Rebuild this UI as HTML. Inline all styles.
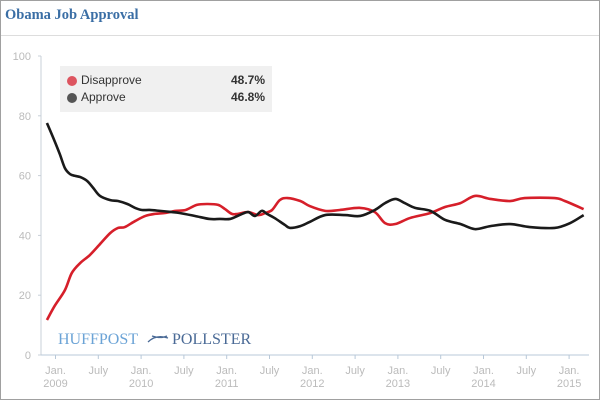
<!DOCTYPE html>
<html><head><meta charset="utf-8"><style>
body{margin:0;background:#fff}
#wrap{position:relative;width:598px;height:398px;border:1px solid #a0a0a0;font-family:"Liberation Sans",sans-serif;overflow:hidden}
#title{position:absolute;left:4px;top:6px;font:bold 14.5px "Liberation Serif",serif;color:#3a6ea5}
#sep{position:absolute;left:0;top:34px;width:598px;height:1px;background:#ddd}
#legend{position:absolute;left:59px;top:65px;width:212px;height:46px;background:#f0f0f0;font-size:12px;color:#333}
.li{position:absolute;left:7px;height:16px;width:198px}
.dot{position:absolute;left:0;top:3px;width:10px;height:10px;border-radius:50%}
.lab{position:absolute;left:14px;top:0}
.val{position:absolute;right:0;top:0;font-weight:bold}
</style></head><body>
<div id="wrap">
<div id="title">Obama Job Approval</div>
<div id="sep"></div>
<svg id="svg" width="598" height="398" style="position:absolute;left:0;top:0"></svg>
<div id="legend">
<div class="li" style="top:7px"><div class="dot" style="background:#dd5560"></div><span class="lab">Disapprove</span><span class="val">48.7%</span></div>
<div class="li" style="top:24px"><div class="dot" style="background:#555"></div><span class="lab">Approve</span><span class="val">46.8%</span></div>
</div>
</div>
<script>
const approveDates=[2008.90,2008.98,2009.05,2009.11,2009.17,2009.23,2009.29,2009.37,2009.44,2009.52,2009.64,2009.73,2009.84,2009.93,2010.01,2010.10,2010.22,2010.36,2010.45,2010.63,2010.80,2010.92,2011.04,2011.15,2011.25,2011.33,2011.41,2011.47,2011.56,2011.68,2011.74,2011.86,2011.97,2012.15,2012.38,2012.56,2012.73,2012.85,2012.97,2013.08,2013.20,2013.38,2013.55,2013.73,2013.90,2014.08,2014.31,2014.54,2014.83,2015.01,2015.17];
const approveValues=[77.6,72.2,67.2,62.5,60.5,59.9,59.5,58.2,55.9,53.2,51.8,51.5,50.5,49.2,48.5,48.5,48.2,47.8,47.5,46.5,45.5,45.5,45.5,46.8,47.8,46.5,48.2,47.2,45.8,43.5,42.5,43.1,44.5,46.8,46.8,46.5,48.5,50.8,52.2,50.8,49.2,48.2,45.2,43.8,42.1,43.1,43.8,42.8,42.5,44.1,46.8];
const disapproveDates=[2008.90,2008.99,2009.11,2009.19,2009.29,2009.40,2009.52,2009.64,2009.73,2009.81,2009.93,2010.05,2010.16,2010.28,2010.40,2010.52,2010.65,2010.78,2010.90,2010.98,2011.06,2011.13,2011.25,2011.37,2011.45,2011.53,2011.62,2011.71,2011.86,2011.97,2012.15,2012.32,2012.56,2012.73,2012.85,2012.97,2013.14,2013.38,2013.55,2013.73,2013.90,2014.08,2014.31,2014.48,2014.83,2014.95,2015.17];
const disapproveValues=[11.7,16.4,21.7,27.4,30.8,33.4,37.1,40.8,42.5,42.8,44.8,46.5,47.2,47.5,48.2,48.5,50.2,50.5,50.2,48.8,47.2,47.2,47.8,46.8,47.5,48.5,51.8,52.5,51.5,49.8,48.2,48.5,49.2,47.8,44.1,43.8,45.8,47.5,49.5,50.8,53.2,52.2,51.5,52.5,52.5,51.5,48.8];
const yTicks=[0,20,40,60,80,100];
const xTickDates=[2009,2009.5,2010,2010.5,2011,2011.5,2012,2012.5,2013,2013.5,2014,2014.5,2015];
const xTickLabels=[["Jan.","2009"],["July",""],["Jan.","2010"],["July",""],["Jan.","2011"],["July",""],["Jan.","2012"],["July",""],["Jan.","2013"],["July",""],["Jan.","2014"],["July",""],["Jan.","2015"]];
const NS="http://www.w3.org/2000/svg";
const svg=document.getElementById('svg');
const X=d=>55.5+(d-2009)*85.6-1;
const Y=v=>354-v*2.99;
function mk(t,a,p){const e=document.createElementNS(NS,t);for(const k in a)e.setAttribute(k,a[k]);(p||svg).appendChild(e);return e;}
const yax=mk('line',{x1:40,y1:Y(100),x2:40,y2:Y(0),stroke:'#c8d0d8'});


const xax=mk('line',{x1:37,y1:Y(0),x2:588,y2:Y(0),stroke:'#b8c8d8'});


yTicks.forEach(v=>{
 mk('line',{x1:37,y1:Y(v),x2:40,y2:Y(v),stroke:'#c8d0d8'});
 const t=mk('text',{x:30,y:Y(v)+4,'text-anchor':'end','font-size':11,fill:'#bbb','font-family':'Liberation Sans'});
 t.textContent=v;
 
 
});
xTickDates.forEach((d,i)=>{
 mk('line',{x1:X(d),y1:Y(0),x2:X(d),y2:Y(0)+4,stroke:'#b8c8d8'});
 xTickLabels[i].forEach((s,j)=>{
  if(!s)return;
  const t=mk('text',{x:X(d),y:373+j*13,'text-anchor':'middle','font-size':11,fill:'#bbb','font-family':'Liberation Sans'});
  t.textContent=s;
  
  
 });
});
const lg=mk('text',{x:57,y:343,'font-size':16,'font-family':'Liberation Serif'});


lg.innerHTML='<tspan fill="#6ba3d6">HUFFPOST</tspan><tspan fill="#4a6a96" dx="34">POLLSTER</tspan>';
mk('path',{d:'M147 341 Q155 333 167 337 M151 335 Q160 338 166 335',stroke:'#4a6a96','stroke-width':1.3,fill:'none'});
function smooth(xs,ys){
 const p=xs.map((d,i)=>[X(d),Y(ys[i])]);
 let s='M'+p[0][0]+','+p[0][1];
 for(let i=0;i<p.length-1;i++){
  const p0=p[Math.max(0,i-1)],p1=p[i],p2=p[i+1],p3=p[Math.min(p.length-1,i+2)];
  const c1=[p1[0]+(p2[0]-p0[0])/6,p1[1]+(p2[1]-p0[1])/6],c2=[p2[0]-(p3[0]-p1[0])/6,p2[1]-(p3[1]-p1[1])/6];
  s+=`C${c1[0]},${c1[1]} ${c2[0]},${c2[1]} ${p2[0]},${p2[1]}`;
 }
 return s;
}
const dl=mk('path',{d:smooth(disapproveDates,disapproveValues),stroke:'#d61f2a','stroke-width':2.6,fill:'none'});


const al=mk('path',{d:smooth(approveDates,approveValues),stroke:'#1a1a1a','stroke-width':2.6,fill:'none'});


</script>
</body></html>
